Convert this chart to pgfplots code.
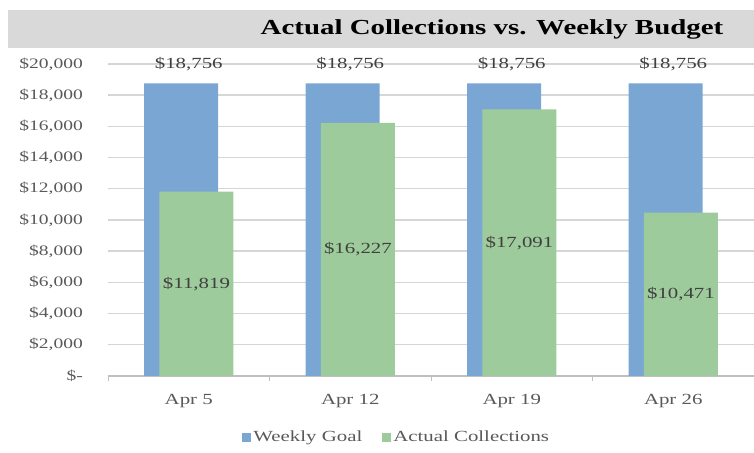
\documentclass[border=0pt]{standalone}
\usepackage{fontspec}
\setmainfont{Liberation Serif}[FakeStretch=1.35]
\usepackage{pgfplots}
\usepackage{pgfplotstable}
\pgfplotsset{compat=1.18}
\definecolor{goal}{HTML}{79A6D3}
\definecolor{actual}{HTML}{9ECB9B}
\definecolor{gridc}{HTML}{D6D6D6}
\definecolor{band}{HTML}{D9D9D9}
\definecolor{ticktext}{HTML}{595959}
\definecolor{labtext}{HTML}{404040}
\definecolor{axisc}{HTML}{BFBFBF}
\newcommand\tickfont{\fontsize{14.5}{16}\selectfont}
\newcommand\labfont{\fontsize{15.5}{17}\selectfont}

\pgfplotstableread{
x goal
0 18756
1 18756
2 18756
3 18756
}\goaldata
\pgfplotstableread{
x actual
0 11819
1 16227
2 17091
3 10471
}\actualdata

\begin{document}
\begin{tikzpicture}
\useasboundingbox (0bp,0bp) rectangle (754bp,453bp);
\fill[band] (8bp,405bp) rectangle (754bp,443bp);
\node[font=\fontsize{21.5}{25}\selectfont\bfseries] at (492bp,424bp) {Actual Collections vs. Weekly Budget};
\begin{axis}[
  at={(108bp,77bp)}, anchor=south west,
  scale only axis, width=646bp, height=312bp,
  xmin=-0.5, xmax=3.5, ymin=0, ymax=20000,
  scaled y ticks=false,
  axis x line*=bottom, axis y line*=left,
  y axis line style={opacity=0},
  x axis line style={draw=axisc, line width=1.5bp},
  xtick={0,1,2,3}, xticklabels={Apr 5, Apr 12, Apr 19, Apr 26},
  minor xtick={-0.5,0.5,1.5,2.5,3.5},
  ytick={0,2000,4000,6000,8000,10000,12000,14000,16000,18000,20000},
  yticklabels={{\$-\hspace{8bp}},{\$2,000},{\$4,000},{\$6,000},{\$8,000},{\$10,000},{\$12,000},{\$14,000},{\$16,000},{\$18,000},{\$20,000}},
  ymajorgrids=true,
  major grid style={draw=gridc, line width=1.4bp},
  major tick length=0.001bp,
  minor tick length=5bp,
  minor tick style={draw=axisc, line width=1bp, yshift=-5bp},
  yticklabel style={font=\tickfont, text=ticktext, inner sep=0pt, anchor=east, xshift=-25bp},
  xticklabel style={font=\labfont, text=ticktext, inner sep=0pt, anchor=center, yshift=-25bp},
  legend columns=2,
  legend image code/.code={\fill[#1, draw=none] (0bp,-4.5bp) rectangle (9bp,4.5bp);},
  legend style={at={(0.447,-0.196)}, anchor=center, draw=none, fill=none, font=\labfont, text=ticktext,
    /tikz/every even column/.append style={column sep=18bp}},
]
\addplot[ybar, fill=goal, draw=none, bar width=74bp, bar shift=-7.7bp,
  nodes near coords={\$\pgfmathprintnumber[fixed, precision=0, 1000 sep={,}, assume math mode=true]{\pgfplotspointmeta}},
  nodes near coords style={font=\labfont, text=labtext, anchor=center, yshift=19bp}]
  table[x=x, y=goal]{\goaldata};
\addlegendentry{Weekly Goal}
\addplot[ybar, fill=actual, draw=none, bar width=74bp, bar shift=7.7bp]
  table[x=x, y=actual]{\actualdata};
\addlegendentry{Actual Collections}
\addplot[draw=none, mark=none, forget plot, point meta=\thisrow{actual},
  nodes near coords={\$\pgfmathprintnumber[fixed, precision=0, 1000 sep={,}, assume math mode=true]{\pgfplotspointmeta}},
  nodes near coords style={font=\labfont, text=labtext, anchor=center, xshift=7.7bp}]
  table[x=x, y expr=\thisrow{actual}/2]{\actualdata};
\end{axis}
\end{tikzpicture}
\end{document}
